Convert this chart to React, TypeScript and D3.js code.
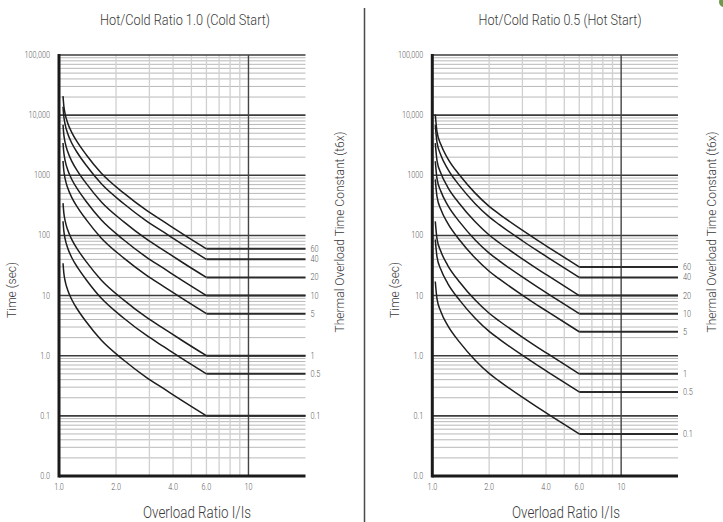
import React from "react";
import * as d3 from "d3";

// ---------- data ----------
const TAU_LABELS = ["60", "40", "20", "10", "5", "1", "0.5", "0.1"];
const COLD_LEVELS = [60, 40, 20, 10, 5, 1, 0.5, 0.1];
const HOT_LEVELS = [30, 20, 10, 5, 2.5, 0.5, 0.25, 0.05];

const Y_TICKS = [100000, 10000, 1000, 100, 10, 1, 0.1, 0.01];
const Y_TICK_LABELS = ["100,000", "10,000", "1000", "100", "10", "1.0", "0.1", "0.0"];
const X_TICKS = [1, 2, 4, 6, 10];
const X_TICK_LABELS = ["1.0", "2.0", "4.0", "6.0", "10"];

// cold start curves (overload ratio -> time in s)
const COLD_I = [1.05, 1.06, 1.08, 1.11, 1.167, 1.26, 1.395, 1.674, 2.2, 2.9, 3.59, 4.53, 6];
const COLD_60 = [20700, 14400, 10140, 7500, 5160, 3420, 2178, 1080, 504, 260, 168, 104.4, 60];
const COLD_40 = [13800, 9600, 6760, 5000, 3440, 2280, 1452, 720, 336, 173, 112, 69.6, 40];
const COLD_20 = [6900, 4800, 3380, 2500, 1720, 1140, 726, 360, 168, 86.6, 56, 34.8, 20];
const COLD_10 = [3450, 2400, 1690, 1250, 860, 570, 363, 180, 84, 43.3, 28, 17.4, 10];
const COLD_5 = [1725, 1200, 845, 625, 430, 285, 181.5, 90, 42, 21.7, 14, 8.7, 5];
const COLD_1 = [345, 240, 169, 125, 86, 57, 36.3, 18, 8.4, 4.33, 2.8, 1.74, 1];
const COLD_05 = [172.5, 120, 84.5, 62.5, 43, 28.5, 18.2, 9, 4.2, 2.17, 1.4, 0.87, 0.5];
const COLD_01 = [34.5, 24, 16.9, 12.5, 8.6, 5.7, 3.63, 1.8, 0.84, 0.433, 0.28, 0.174, 0.1];

// hot start curves
const HOT_I = [1.037, 1.059, 1.112, 1.206, 1.401, 1.682, 2.0, 2.262, 3.008, 3.612, 4.079, 6];
const HOT_60 = [10260, 5280, 3210, 1914, 990, 510, 304.8, 226.8, 121.2, 82.8, 64.8, 30];
const HOT_40 = [6840, 3520, 2140, 1276, 660, 340, 203.2, 151.2, 80.8, 55.2, 43.2, 20];
const HOT_20 = [3420, 1760, 1070, 638, 330, 170, 101.6, 75.6, 40.4, 27.6, 21.6, 10];
const HOT_10 = [1710, 880, 535, 319, 165, 85, 50.8, 37.8, 20.2, 13.8, 10.8, 5];
const HOT_5 = [855, 440, 267.5, 159.5, 82.5, 42.5, 25.4, 18.9, 10.1, 6.9, 5.4, 2.5];
const HOT_1 = [171, 88, 53.5, 31.9, 16.5, 8.5, 5.08, 3.78, 2.02, 1.38, 1.08, 0.5];
const HOT_05 = [85.5, 44, 26.8, 16, 8.25, 4.25, 2.54, 1.89, 1.01, 0.69, 0.54, 0.25];
const HOT_01 = [17.1, 8.8, 5.35, 3.19, 1.65, 0.85, 0.508, 0.378, 0.202, 0.138, 0.108, 0.05];

const COLD_SERIES = [COLD_60, COLD_40, COLD_20, COLD_10, COLD_5, COLD_1, COLD_05, COLD_01];
const HOT_SERIES = [HOT_60, HOT_40, HOT_20, HOT_10, HOT_5, HOT_1, HOT_05, HOT_01];

const FONT = "Roboto, 'Open Sans', sans-serif";

type PanelProps = {
  x0: number;
  x1: number;
  title: string;
  titleX: number;
  titleW: number;
  xTitleX: number;
  yTitleX: number;
  tcTitleX: number;
  currents: number[];
  series: number[][];
  levels: number[];
};

const minorVals: number[] = [];
for (let e = -2; e <= 4; e++) {
  for (let k = 2; k <= 9; k++) minorVals.push(k * Math.pow(10, e));
}
const X_MINOR = [2, 3, 4, 5, 6, 7, 8, 9];

function Panel(p: PanelProps) {
  const xs = d3.scaleLog().domain([1, 20]).range([p.x0, p.x1]);
  const ys = d3.scaleLog().domain([0.01, 100000]).range([476, 55]);
  const line = d3
    .line<[number, number]>()
    .x((d) => xs(d[0]))
    .y((d) => ys(d[1]))
    .curve(d3.curveMonotoneX);
  const top = ys(100000);
  const bottom = ys(0.01);

  return (
    <g>
      {/* minor horizontal grid */}
      {minorVals.map((v, i) => (
        <line key={"h" + i} x1={p.x0} x2={p.x1} y1={ys(v)} y2={ys(v)} stroke="#b8b8b8" strokeWidth={1} />
      ))}
      {/* minor vertical grid */}
      {X_MINOR.map((v, i) => (
        <line key={"v" + i} x1={xs(v)} x2={xs(v)} y1={top} y2={bottom} stroke="#d0d0d0" strokeWidth={1.3} />
      ))}
      {/* decade lines */}
      {Y_TICKS.slice(0, 7).map((v, i) => (
        <line key={"d" + i} x1={p.x0} x2={p.x1} y1={ys(v)} y2={ys(v)} stroke="#3c3c3c" strokeWidth={1.6} />
      ))}
      <line x1={xs(10)} x2={xs(10)} y1={top} y2={bottom} stroke="#444" strokeWidth={1.4} />
      {/* axes */}
      <line x1={p.x0} x2={p.x0} y1={top - 1} y2={bottom + 1.5} stroke="#1a1a1a" strokeWidth={3} />
      <line x1={p.x0} x2={p.x1} y1={bottom} y2={bottom} stroke="#1a1a1a" strokeWidth={2.8} />

      {/* curves */}
      {p.series.map((s, i) => (
        <g key={"c" + i}>
          <path
            d={line(p.currents.map((c, j) => [c, s[j]] as [number, number])) || ""}
            fill="none"
            stroke="#1e1e1e"
            strokeWidth={1.5}
          />
          <line x1={xs(6)} x2={p.x1} y1={ys(p.levels[i])} y2={ys(p.levels[i])} stroke="#2a2a2a" strokeWidth={2} />
          <text
            transform={`translate(${p.x1 + 5},${ys(p.levels[i]) + 3}) scale(0.82,1)`}
            fontSize={9}
            fontFamily={FONT}
            fontWeight={300}
            fill="#5a5a5a"
          >
            {TAU_LABELS[i]}
          </text>
        </g>
      ))}

      {/* y tick labels */}
      {Y_TICKS.map((v, i) => (
        <text
          key={"yt" + i}
          transform={`translate(${p.x0 - 9},${ys(v) + 3}) scale(0.85,1)`}
          textAnchor="end"
          fontSize={8.5}
          fontFamily={FONT}
          fontWeight={300}
          fill="#5a5a5a"
        >
          {Y_TICK_LABELS[i]}
        </text>
      ))}
      {/* x tick labels */}
      {X_TICKS.map((v, i) => (
        <text
          key={"xt" + i}
          transform={`translate(${xs(v)},${490}) scale(0.85,1)`}
          textAnchor="middle"
          fontSize={8.5}
          fontFamily={FONT}
          fontWeight={300}
          fill="#5a5a5a"
        >
          {X_TICK_LABELS[i]}
        </text>
      ))}

      {/* titles */}
      <text
        x={p.titleX}
        y={25}
        textAnchor="middle"
        fontSize={15}
        fontFamily={FONT}
        fontWeight={300}
        fill="#3a3a3a"
        textLength={p.titleW}
        lengthAdjust="spacingAndGlyphs"
      >
        {p.title}
      </text>
      <text
        x={p.xTitleX}
        y={518}
        textAnchor="middle"
        fontSize={16}
        fontFamily={FONT}
        fontWeight={300}
        fill="#3a3a3a"
        textLength={108}
        lengthAdjust="spacingAndGlyphs"
      >
        Overload Ratio I/Is
      </text>
      <text
        transform={`translate(${p.yTitleX},290) rotate(-90)`}
        textAnchor="middle"
        fontSize={12}
        fontFamily={FONT}
        fontWeight={300}
        fill="#3a3a3a"
        textLength={56}
        lengthAdjust="spacingAndGlyphs"
      >
        Time (sec)
      </text>
      <text
        transform={`translate(${p.tcTitleX},232) rotate(-90)`}
        textAnchor="middle"
        fontSize={13.5}
        fontFamily={FONT}
        fontWeight={300}
        fill="#3a3a3a"
        textLength={201}
        lengthAdjust="spacingAndGlyphs"
      >
        Thermal Overload Time Constant (t6x)
      </text>
    </g>
  );
}

export default function App() {
  return (
    <svg
      width={723}
      height={522}
      style={{ position: "absolute", left: 0, top: 0, background: "#fff" }}
    >
      <rect x={0} y={0} width={723} height={522} fill="#fff" />
      <Panel
        x0={59}
        x1={305.5}
        title="Hot/Cold Ratio 1.0 (Cold Start)"
        titleX={185}
        titleW={170}
        xTitleX={197}
        yTitleX={16}
        tcTitleX={344}
        currents={COLD_I}
        series={COLD_SERIES}
        levels={COLD_LEVELS}
      />
      <Panel
        x0={432.3}
        x1={678}
        title="Hot/Cold Ratio 0.5 (Hot Start)"
        titleX={560}
        titleW={163}
        xTitleX={566}
        yTitleX={399}
        tcTitleX={716}
        currents={HOT_I}
        series={HOT_SERIES}
        levels={HOT_LEVELS}
      />
      <line x1={364.5} x2={364.5} y1={8} y2={522} stroke="#4a4a4a" strokeWidth={1.5} />
      <circle cx={724} cy={2} r={5} fill="#6b9a4a" />
    </svg>
  );
}
